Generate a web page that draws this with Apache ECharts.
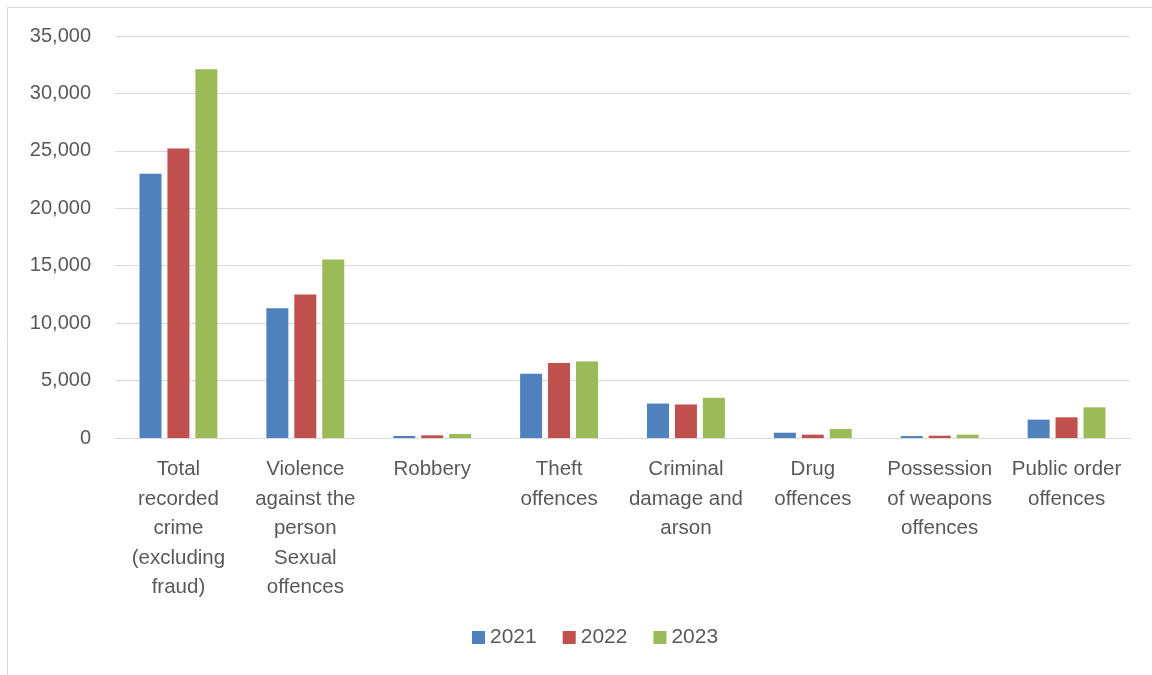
<!DOCTYPE html>
<html>
<head>
<meta charset="utf-8">
<script src="https://cdn.jsdelivr.net/npm/echarts@6/dist/echarts.min.js"></script>
<style>
	html, body { margin: 0; padding: 0; background: #fff; }
	#chart { width: 1152px; height: 675px; }
</style>
</head>
<body>
<div id="chart"></div>
<script>
const categories = [
	"Total\nrecorded\ncrime\n(excluding\nfraud)",
	"Violence\nagainst the\nperson\nSexual\noffences",
	"Robbery",
	"Theft\noffences",
	"Criminal\ndamage and\narson",
	"Drug\noffences",
	"Possession\nof weapons\noffences",
	"Public order\noffences"
];
const years = ["2021", "2022", "2023"];
const values2021 = [23000, 11300, 180, 5600, 3000, 460, 170, 1600];
const values2022 = [25200, 12500, 230, 6530, 2920, 290, 200, 1800];
const values2023 = [32100, 15550, 350, 6650, 3500, 780, 290, 2670];
const yTicks = [0, 5000, 10000, 15000, 20000, 25000, 30000, 35000];

const colors = ["#4F81BD", "#C0504D", "#9BBB59"];
const font = "Liberation Sans";

const chart = echarts.init(document.getElementById("chart"));

const option = {
	textStyle: { fontFamily: font },
	graphic: [{
		type: "rect",
		shape: { x: 7.5, y: 7.5, width: 1160, height: 680 },
		style: { fill: "none", stroke: "#d9d9d9", lineWidth: 1 },
		silent: true
	}],
	legend: {
		bottom: 22,
		left: 467,
		icon: "rect",
		itemWidth: 13,
		itemHeight: 13,
		itemGap: 26,
		textStyle: { color: "#595959", fontSize: 21, fontFamily: font },
		data: years
	},
	grid: {
		left: 115,
		right: 22,
		top: 36,
		bottom: 237
	},
	xAxis: {
		type: "category",
		data: categories,
		axisTick: { show: false },
		axisLine: { lineStyle: { color: "#d9d9d9", width: 1 } },
		axisLabel: {
			color: "#595959",
			fontSize: 20.5,
			lineHeight: 29.5,
			margin: 17,
			interval: 0,
			fontFamily: font
		}
	},
	yAxis: {
		type: "value",
		min: yTicks[0],
		max: yTicks[yTicks.length - 1],
		interval: 5000,
		axisLine: { show: false },
		axisTick: { show: false },
		splitLine: { lineStyle: { color: "#d9d9d9", width: 1 } },
		axisLabel: {
			color: "#595959",
			fontSize: 20,
			margin: 24,
			fontFamily: font,
			formatter: v => v.toLocaleString("en-US")
		}
	},
	series: [values2021, values2022, values2023].map((data, i) => ({
		name: years[i],
		type: "bar",
		data: data,
		barWidth: 22,
		barGap: "27%",
		itemStyle: { color: colors[i] }
	}))
};

chart.setOption(option);
window.onresize = chart.resize;
</script>
</body>
</html>
